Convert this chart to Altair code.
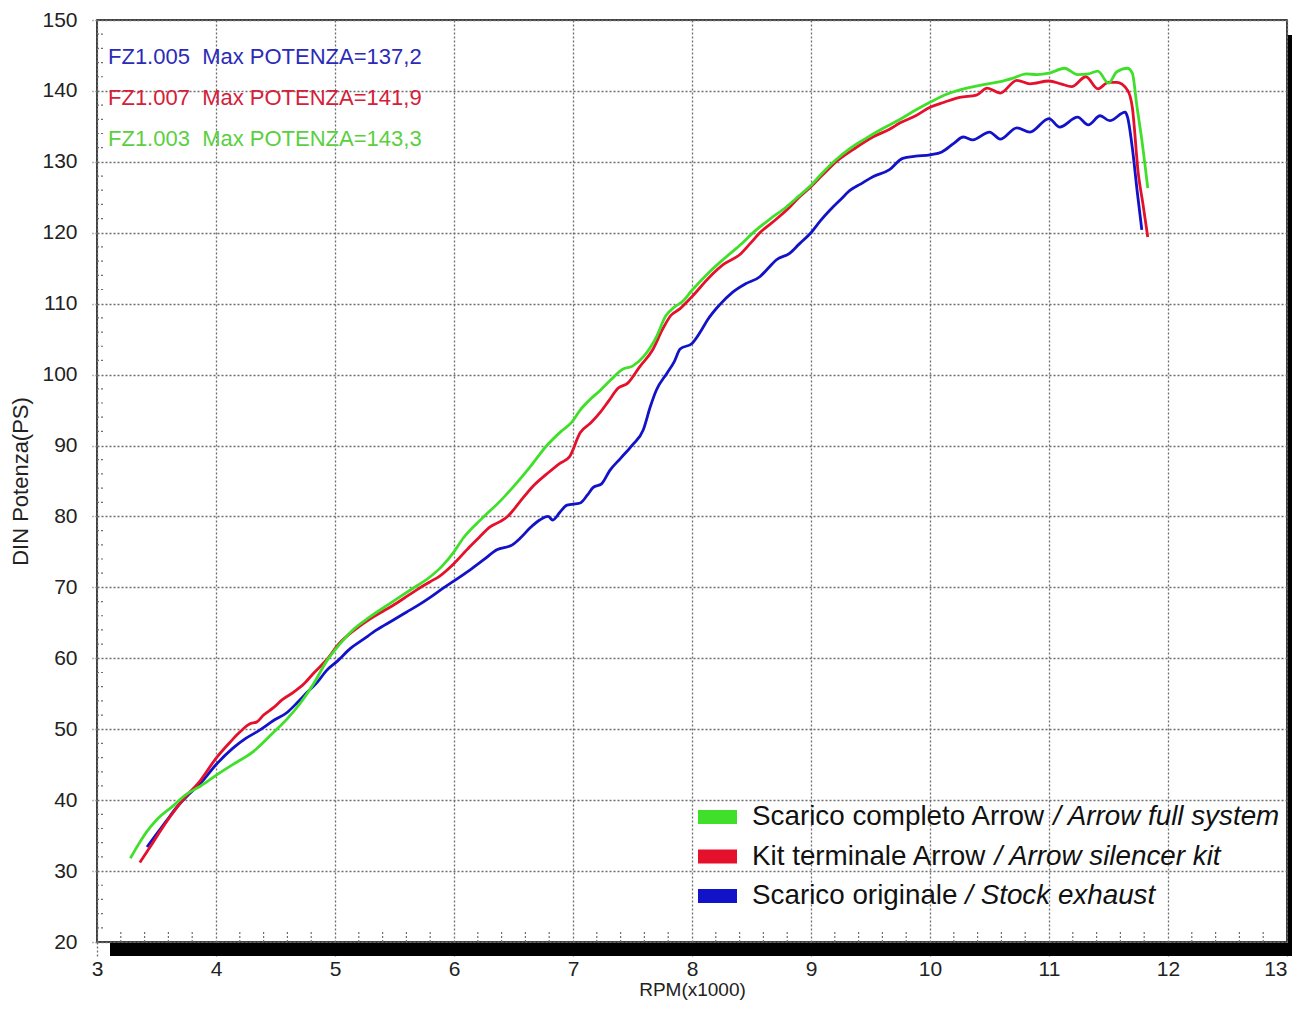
import altair as alt
import pandas as pd

# ---------------- data ----------------
series_names = ["full", "silencer", "stock"]
series_colors = ["#40e02a", "#e4102c", "#1212c8"]

green_rpm = [3.28, 3.35, 3.42, 3.5, 3.64, 3.75, 3.87, 4.0, 4.14, 4.31, 4.48, 4.6, 4.71, 4.82, 4.93,
             5.04, 5.15, 5.29, 5.45, 5.63, 5.8, 5.9, 5.99, 6.08, 6.24, 6.39, 6.52, 6.64, 6.78, 6.9,
             6.99, 7.06, 7.15, 7.23, 7.32, 7.42, 7.5, 7.59, 7.7, 7.78, 7.85, 7.92, 8.0, 8.13, 8.26,
             8.4, 8.54, 8.66, 8.79, 8.9, 9.0, 9.1, 9.21, 9.32, 9.44, 9.58, 9.75, 9.88, 10.0, 10.15,
             10.31, 10.45, 10.59, 10.7, 10.81, 10.9, 11.0, 11.13, 11.24, 11.33, 11.41, 11.5, 11.57,
             11.66, 11.7, 11.74, 11.78, 11.83]
green_ps = [31.8, 33.8, 35.6, 37.2, 39.2, 40.8, 42.0, 43.5, 45.0, 46.8, 49.5, 51.5, 53.7, 56.4, 59.6,
            62.0, 64.0, 65.8, 67.6, 69.6, 71.5, 73.0, 74.8, 77.0, 79.8, 82.2, 84.6, 87.0, 90.0, 92.0,
            93.3, 95.0, 96.6, 97.8, 99.3, 100.8, 101.2, 102.5, 105.3, 108.3, 109.5, 110.3, 111.9, 114.2, 116.2,
            118.2, 120.4, 122.0, 123.6, 125.2, 126.7, 128.5, 130.3, 131.8, 133.1, 134.5, 136.0, 137.3, 138.4, 139.6,
            140.4, 140.9, 141.3, 141.8, 142.4, 142.3, 142.5, 143.2, 142.3, 142.4, 142.8, 141.1, 142.7,
            143.2, 142.5, 137.7, 133.1, 126.3]

red_rpm = [3.36, 3.45, 3.53, 3.62, 3.72, 3.87, 4.0, 4.12, 4.2, 4.29, 4.34, 4.4, 4.48, 4.56, 4.65, 4.74,
           4.82, 4.93, 5.03, 5.18, 5.29, 5.4, 5.52, 5.61, 5.71, 5.8, 5.88, 5.99, 6.13, 6.22, 6.3, 6.39,
           6.45, 6.55, 6.66, 6.78, 6.89, 6.97, 7.06, 7.15, 7.23, 7.3, 7.38, 7.46, 7.56, 7.67, 7.75, 7.82,
           7.9, 8.0, 8.15, 8.27, 8.4, 8.49, 8.57, 8.7, 8.82, 8.9, 9.0, 9.1, 9.21, 9.36, 9.52, 9.66, 9.75,
           9.88, 10.0, 10.12, 10.25, 10.39, 10.48, 10.59, 10.73, 10.84, 11.0, 11.1, 11.19, 11.31, 11.41,
           11.5, 11.57, 11.66, 11.7, 11.75, 11.79, 11.83]
red_ps = [31.2, 33.5, 35.6, 37.8, 40.0, 42.8, 45.9, 48.2, 49.6, 50.8, 51.0, 52.0, 53.0, 54.2, 55.2, 56.4,
          57.9, 59.8, 62.0, 64.2, 65.5, 66.6, 67.8, 68.8, 69.9, 70.8, 71.6, 73.2, 75.7, 77.2, 78.5, 79.3,
          80.0, 82.0, 84.2, 86.0, 87.5, 88.4, 91.8, 93.2, 94.7, 96.3, 98.1, 98.8, 101.1, 103.5, 106.3, 108.3,
          109.3, 111.0, 113.8, 115.6, 116.9, 118.5, 120.0, 121.8, 123.6, 125.0, 126.5, 128.2, 130.0, 131.8, 133.5, 134.6, 135.5,
          136.5, 137.7, 138.4, 139.1, 139.4, 140.4, 139.7, 141.5, 141.0, 141.4, 141.0, 140.6, 142.0, 140.3,
          141.2, 141.2, 140.1, 137.7, 128.4, 124.0, 119.4]

blue_rpm = [3.42, 3.5, 3.58, 3.67, 3.77, 3.87, 4.0, 4.14, 4.25, 4.37, 4.48, 4.6, 4.68, 4.76, 4.85, 4.93,
            5.02, 5.13, 5.24, 5.35, 5.48, 5.6, 5.7, 5.8, 5.9, 5.99, 6.13, 6.25, 6.36, 6.49, 6.56, 6.64,
            6.72, 6.79, 6.83, 6.89, 6.95, 7.06, 7.12, 7.17, 7.24, 7.31, 7.4, 7.5, 7.59, 7.65, 7.7, 7.79,
            7.85, 7.9, 8.0, 8.08, 8.13, 8.23, 8.34, 8.45, 8.57, 8.64, 8.71, 8.82, 8.9, 9.0, 9.08, 9.16,
            9.25, 9.33, 9.42, 9.52, 9.66, 9.77, 9.88, 10.0, 10.1, 10.2, 10.28, 10.36, 10.5, 10.59, 10.73,
            10.84, 11.0, 11.09, 11.24, 11.33, 11.43, 11.51, 11.64, 11.66, 11.7, 11.74, 11.78]
blue_ps = [33.4, 35.2, 37.0, 39.0, 40.8, 42.4, 45.0, 47.3, 48.7, 49.9, 51.2, 52.4, 53.7, 55.1, 56.6, 58.3,
           59.6, 61.4, 62.7, 64.0, 65.3, 66.5, 67.5, 68.6, 69.8, 70.8, 72.4, 73.9, 75.3, 76.0, 77.0, 78.4,
           79.5, 80.0, 79.5, 80.6, 81.6, 81.9, 83.0, 84.1, 84.6, 86.5, 88.2, 90.1, 92.2, 95.5, 97.8, 100.2,
           101.8, 103.6, 104.4, 106.3, 107.7, 109.8, 111.6, 112.8, 113.8, 115.0, 116.2, 117.1, 118.4, 120.0, 121.7, 123.2,
           124.7, 126.0, 126.9, 127.9, 128.9, 130.5, 130.8, 131.0, 131.4, 132.6, 133.5, 133.1, 134.2, 133.2, 134.8,
           134.2, 136.1, 134.9, 136.3, 135.2, 136.5, 135.8, 137.0, 136.3, 132.0, 126.0, 120.4]

x_ticks = list(range(3, 14))
y_ticks = list(range(20, 151, 10))
x_minor = [round(3 + 0.2 * k, 1) for k in range(1, 50) if k % 5 != 0]
y_minor = [20 + 2 * k for k in range(1, 65) if k % 5 != 0]

annot_labels = ["FZ1.005\u00a0\u00a0Max POTENZA=137,2",
                "FZ1.007\u00a0\u00a0Max POTENZA=141,9",
                "FZ1.003\u00a0\u00a0Max POTENZA=143,3"]
annot_colors = ["#2b2bb8", "#d42038", "#5ad040"]

legend_normal = ["Scarico completo Arrow", "Kit terminale Arrow", "Scarico originale"]
legend_italic = ["/ Arrow full system", "/ Arrow silencer kit", "/ Stock exhaust"]
legend_colors = ["#40e02a", "#e4102c", "#1212c8"]

# ---------------- layout / style ----------------
W, H = 1190, 922
RIGHT_EDGE = 1195          # right edge of the drawing, in plot coordinates
FONT = "Liberation Sans"
GRID = "#6e6e6e"
LEG_FS = 27.8
ARIAL_W = {"S": 667, "c": 500, "a": 556, "r": 333, "i": 222, "o": 556, "m": 833, "p": 556,
           "l": 222, "e": 556, "t": 278, "A": 667, "w": 722, "K": 667, "n": 556, "g": 556, " ": 278}


def text_width(s, size):
    return sum(ARIAL_W.get(ch, 556) for ch in s) * size / 1000.0


x_scale = alt.Scale(domain=[3, 13], nice=False, zero=False)
y_scale = alt.Scale(domain=[20, 150], nice=False, zero=False)

x_axis = alt.Axis(values=x_ticks, format="d", title="RPM(x1000)", grid=True, domain=False,
                  tickSize=16, labelPadding=0, labelFlush=False, labelOverlap=False,
                  labelAlign={"condition": {"test": "datum.value >= 13", "value": "right"},
                              "value": "center"},
                  titleY=47, titleBaseline="middle", titleFontSize=19)
y_axis = alt.Axis(values=y_ticks, format="d", title="DIN Potenza(PS)", grid=True, domain=False,
                  tickSize=5, labelPadding=15, labelOverlap=False,
                  titleX=-77, titleY=H / 2, titleAngle=270, titleAlign="center",
                  titleBaseline="middle", titleFontSize=22)

layers = []

# minor ticks inside the frame
layers.append(alt.Chart(pd.DataFrame({"rpm": x_minor})).mark_rule(
    color=GRID, strokeDash=[2, 2], strokeWidth=1.2).encode(
    x=alt.X("rpm:Q", scale=x_scale, axis=x_axis), y=alt.value(H - 10), y2=alt.value(H)))
layers.append(alt.Chart(pd.DataFrame({"ps": y_minor})).mark_rule(
    color=GRID, strokeDash=[2, 2], strokeWidth=1.2).encode(
    y=alt.Y("ps:Q", scale=y_scale, axis=y_axis), x=alt.value(0), x2=alt.value(7)))

# curves: stock first, then silencer, then full system on top
for name, rpms, ps, col in [("stock", blue_rpm, blue_ps, series_colors[2]),
                            ("silencer", red_rpm, red_ps, series_colors[1]),
                            ("full", green_rpm, green_ps, series_colors[0])]:
    d = pd.DataFrame({"rpm": rpms, "ps": ps, "series": name})
    layers.append(alt.Chart(d).mark_line(strokeWidth=2.8, interpolate="monotone", color=col).encode(
        x=alt.X("rpm:Q", scale=x_scale), y=alt.Y("ps:Q", scale=y_scale), order="rpm:Q"))

one = alt.Data(values=[{}])

# top-left annotations
for i, (lab, col) in enumerate(zip(annot_labels, annot_colors)):
    layers.append(alt.Chart(one).mark_text(
        align="left", baseline="middle", font=FONT, fontSize=22, color=col).encode(
        x=alt.value(11), y=alt.value(37 + 41 * i), text=alt.value(lab)))

# custom legend (bottom right)
for i, (nt, it, col) in enumerate(zip(legend_normal, legend_italic, legend_colors)):
    cy = 797 + 39.5 * i
    layers.append(alt.Chart(one).mark_rect(color=col).encode(
        x=alt.value(601), x2=alt.value(640), y=alt.value(cy - 7), y2=alt.value(cy + 7)))
    layers.append(alt.Chart(one).mark_text(
        align="left", baseline="middle", font=FONT, fontSize=LEG_FS, color="#111").encode(
        x=alt.value(655), y=alt.value(cy), text=alt.value(nt)))
    layers.append(alt.Chart(one).mark_text(
        align="left", baseline="middle", font=FONT, fontSize=LEG_FS, fontStyle="italic",
        color="#111").encode(
        x=alt.value(655 + text_width(nt + " ", LEG_FS)), y=alt.value(cy), text=alt.value(it)))

# black drop shadow along bottom and right
layers.append(alt.Chart(one).mark_rect(color="black").encode(
    x=alt.value(13), x2=alt.value(RIGHT_EDGE), y=alt.value(H + 1), y2=alt.value(H + 14)))
layers.append(alt.Chart(one).mark_rect(color="black").encode(
    x=alt.value(W + 1), x2=alt.value(RIGHT_EDGE), y=alt.value(15), y2=alt.value(H + 14)))

chart = alt.layer(*layers).properties(
    width=W, height=H,
    autosize=alt.AutoSizeParams(type="none"),
    padding={"left": 89, "top": 12, "right": 5, "bottom": 58},
    background="white",
).configure_view(
    stroke="black", strokeWidth=1.5
).configure_axis(
    gridColor=GRID, gridDash=[2, 2], gridWidth=1.3, gridOpacity=1,
    tickColor=GRID, tickDash=[2, 2], tickWidth=1.3,
    labelFont=FONT, labelFontSize=21, labelColor="#222",
    titleFont=FONT, titleFontWeight="normal", titleColor="#222",
)

chart.save("out.html", embed_options={"renderer": "svg", "actions": False})
